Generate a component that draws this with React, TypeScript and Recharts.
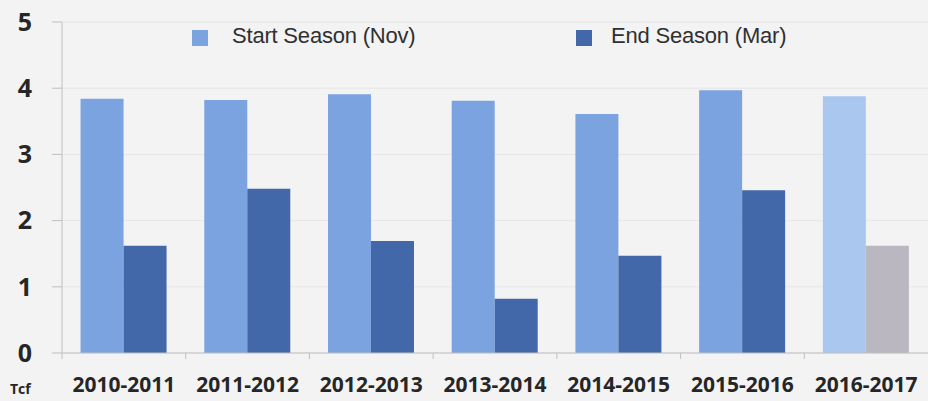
import { BarChart, Bar, XAxis, YAxis, CartesianGrid, Cell } from 'recharts'

const seasons = ['2010-2011', '2011-2012', '2012-2013', '2013-2014', '2014-2015', '2015-2016', '2016-2017']
const startNov = [3.84, 3.82, 3.91, 3.81, 3.61, 3.97, 3.88]
const endMar = [1.62, 2.48, 1.69, 0.82, 1.47, 2.46, 1.62]
const yTicks = [0, 1, 2, 3, 4, 5]

const data = seasons.map((s, i) => ({ season: s, start: startNov[i], end: endMar[i] }))

const START = '#7BA3E0'
const END = '#4268A9'
const START_FC = '#A9C7EF'
const END_FC = '#BBB7C1'
const FONT = '"Open Sans", sans-serif'

const SeasonTick = (props: any) => {
  const { x, y, payload } = props
  const off = payload.offset || 0
  return (
    <g>
      <line x1={x - off} x2={x - off} y1={y - 8} y2={y - 2} stroke="#bfbfbf" />
      <text x={x} y={y + 31} textAnchor="middle" fontFamily={FONT} fontWeight={700} fontSize={21} fill="#262626">
        {payload.value}
      </text>
    </g>
  )
}

// legend sits over the top of the plot, like in the source slide
const LegendBox = () => (
  <div style={{ position: 'absolute', left: 0, top: 22, width: 928, height: 30, fontFamily: 'Arial, "Liberation Sans", sans-serif', fontSize: 22, color: '#303030' }}>
    <span style={{ position: 'absolute', left: 192, top: 8, width: 16, height: 16, background: START }} />
    <span style={{ position: 'absolute', left: 232, top: 1, letterSpacing: -0.2 }}>Start Season (Nov)</span>
    <span style={{ position: 'absolute', left: 576, top: 8, width: 16, height: 16, background: END }} />
    <span style={{ position: 'absolute', left: 611, top: 1, letterSpacing: -0.2 }}>End Season (Mar)</span>
  </div>
)

export default function App() {
  return (
    <div style={{ position: 'absolute', left: 0, top: 0, width: 928, height: 401, background: '#F3F3F3', overflow: 'hidden' }}>
      <BarChart width={928} height={401} data={data} margin={{ top: 22, right: 0, bottom: 0, left: 0 }}
        barCategoryGap="15%" barGap={0}>
        <CartesianGrid vertical={false} stroke="#e6e6e6" />
        <XAxis dataKey="season" height={48} stroke="#bfbfbf" tickLine={false} tick={<SeasonTick />} interval={0} />
        <YAxis domain={[0, 5]} ticks={yTicks} width={62} stroke="#bfbfbf" tickSize={10} tickMargin={20}
          tick={{ fontFamily: FONT, fontWeight: 700, fontSize: 25, fill: '#262626' }} />
        <Bar dataKey="start" name="Start Season (Nov)" fill={START} isAnimationActive={false}>
          {data.map((d, i) => <Cell key={d.season} fill={i === data.length - 1 ? START_FC : START} />)}
        </Bar>
        <Bar dataKey="end" name="End Season (Mar)" fill={END} isAnimationActive={false}>
          {data.map((d, i) => <Cell key={d.season} fill={i === data.length - 1 ? END_FC : END} />)}
        </Bar>
      </BarChart>
      <LegendBox />
      <div style={{ position: 'absolute', left: 10, top: 380, fontFamily: FONT, fontWeight: 700, fontSize: 14, lineHeight: '18px', color: '#262626' }}>Tcf</div>
    </div>
  )
}
